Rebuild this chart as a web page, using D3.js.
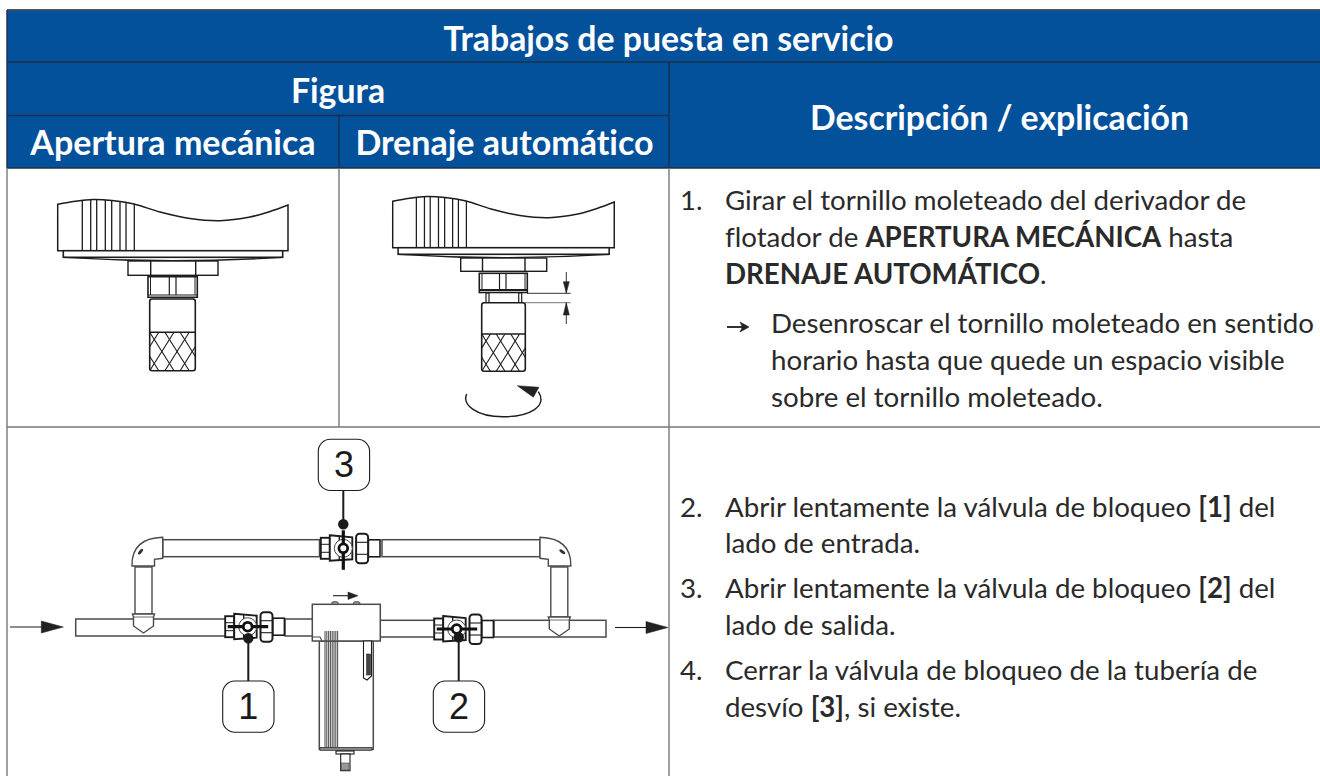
<!DOCTYPE html>
<html>
<head>
<meta charset="utf-8">
<script src="https://cdnjs.cloudflare.com/ajax/libs/d3/7.8.5/d3.min.js"></script>
<style>
html, body { margin: 0; padding: 0; background: #fff; overflow: hidden; }
svg { display: block; }
text { font-variant-ligatures: none; }
</style>
</head>
<body>
<div id="chart"></div>
<script>
//Table content.
var tableTitle = "Trabajos de puesta en servicio";
var figureHead = "Figura";
var columnHeads = ["Apertura mecánica", "Drenaje automático"];
var descriptionHead = "Descripción / explicación";
var stepNumbers = ["1.", "2.", "3.", "4."];
var stepOne = [
	[["Girar el tornillo moleteado del derivador de", 0]],
	[["flotador de ", 0], ["APERTURA MECÁNICA", 1], [" hasta", 0]],
	[["DRENAJE AUTOMÁTICO", 1], [".", 0]]
];
var stepOneResult = [
	"Desenroscar el tornillo moleteado en sentido",
	"horario hasta que quede un espacio visible",
	"sobre el tornillo moleteado."
];
var stepTwo = [
	[["Abrir lentamente la válvula de bloqueo ", 0], ["[1]", 1], [" del", 0]],
	[["lado de entrada.", 0]]
];
var stepThree = [
	[["Abrir lentamente la válvula de bloqueo ", 0], ["[2]", 1], [" del", 0]],
	[["lado de salida.", 0]]
];
var stepFour = [
	[["Cerrar la válvula de bloqueo de la tubería de", 0]],
	[["desvío ", 0], ["[3]", 1], [", si existe.", 0]]
];
var callouts = ["1", "2", "3"];

var width = 1320, height = 776;
var blue = "#03519b", ink = "#1c1c1c", rule = "#777";
var textFont = "Lato, 'Noto Sans', sans-serif";

var svg = d3.select("#chart").append("svg").attr("width", width).attr("height", height);
var line = d3.line();
var smooth = d3.line().curve(d3.curveCatmullRom);

//Draw open or closed outline from a list of points.
function poly(g, pts, fill, sw, stroke){
	return g.append("path").attr("d", line(pts) + (fill ? "Z" : ""))
		.attr("fill", fill || "none").attr("stroke", stroke || ink).attr("stroke-width", sw || 1.4);
}
function box(g, x0, y0, x1, y1, fill, sw, rx, stroke){
	return g.append("rect").attr("x", x0).attr("y", y0).attr("width", x1 - x0).attr("height", y1 - y0)
		.attr("rx", rx || 0).attr("fill", fill || "#fff").attr("stroke", stroke || ink).attr("stroke-width", sw || 1.4);
}

//Header bands and table rules.
var head = svg.append("g");
head.append("rect").attr("x", 7).attr("y", 10).attr("width", 1313).attr("height", 158).attr("fill", blue);
[[7, 9.8, 1320, 9.8, "#555"], [7, 62, 1320, 62, "#1d2f4a"], [7, 115.5, 669, 115.5, "#1d2f4a"], [7, 168, 1320, 168, "#1d2f4a"],
 [339, 115.5, 339, 168, "#1d2f4a"], [669, 62, 669, 168, "#1d2f4a"], [7, 10, 7, 168, "#1d2f4a"],
 [7, 168, 7, 776, rule], [339, 168, 339, 427, rule], [669, 168, 669, 776, rule], [7, 427, 1320, 427, rule]].forEach(function(r){
	svg.append("line").attr("x1", r[0]).attr("y1", r[1]).attr("x2", r[2]).attr("y2", r[3]).attr("stroke", r[4]).attr("stroke-width", 1.4);
});

var heads = [
	{t: tableTitle, x: 668.5, y: 50.5, s: 33.8},
	{t: figureHead, x: 338, y: 103, s: 33.8},
	{t: columnHeads[0], x: 173, y: 154.5, s: 34},
	{t: columnHeads[1], x: 504.5, y: 154.5, s: 34},
	{t: descriptionHead, x: 999.5, y: 130, s: 33.8}
];
svg.append("g").selectAll("text").data(heads).join("text")
	.attr("x", function(d){ return d.x; }).attr("y", function(d){ return d.y; })
	.attr("text-anchor", "middle").attr("font-family", textFont).attr("font-weight", 700)
	.attr("font-size", function(d){ return d.s; }).attr("fill", "#fff")
	.text(function(d){ return d.t; });

//Description column.
var bodySize = 27.7;
function runs(rows, x, y0, gap){
	svg.append("g").selectAll("text").data(rows).join("text")
		.attr("x", x).attr("y", function(d, i){ return y0 + i * gap; })
		.attr("font-family", textFont).attr("font-size", bodySize).attr("fill", "#2a2a2a")
		.style("white-space", "pre")
		.selectAll("tspan").data(function(d){ return d; }).join("tspan")
		.attr("font-weight", function(d){ return d[1] ? 700 : 400; })
		.text(function(d){ return d[0]; });
}
function number(i, y){
	svg.append("text").attr("x", 680).attr("y", y).attr("font-family", textFont)
		.attr("font-size", bodySize).attr("fill", "#2a2a2a").text(stepNumbers[i]);
}
number(0, 210); runs(stepOne, 725, 210, 37);
runs(stepOneResult.map(function(s){ return [[s, 0]]; }), 771, 333, 37);
var resArrow = svg.append("g");
poly(resArrow, [[727, 327], [744, 327]], null, 1.8);
poly(resArrow, [[740, 322], [749, 327], [740, 332], [742.5, 327]], "#222", 0.6);
number(1, 516.5); runs(stepTwo, 725, 516.5, 36.5);
number(2, 598); runs(stepThree, 725, 598, 36.5);
number(3, 680); runs(stepFour, 725, 680, 36.5);

//Float drain illustrations.
var capTop = [[57.7, 204.3], [75, 201.3], [93, 199.5], [112, 200.5], [134, 204], [160, 212], [190, 218.5], [220, 220.7], [250, 217], [270, 211.5], [288, 205]];
var capRibs = [82.3, 90.7, 96.7, 105.3, 111.7, 120, 126, 134.3];
var knurlTop = d3.range(-3, 7);

function cap(g, id){
	var outline = smooth(capTop) + "L288,250.7L57.7,250.7Z";
	g.append("clipPath").attr("id", id).append("path").attr("d", outline);
	g.append("path").attr("d", outline).attr("fill", "#fff").attr("stroke", ink).attr("stroke-width", 1.5);
	g.append("g").attr("clip-path", "url(#" + id + ")").selectAll("line").data(capRibs).join("line")
		.attr("x1", function(d){ return d; }).attr("x2", function(d){ return d; })
		.attr("y1", 195).attr("y2", 251).attr("stroke", ink).attr("stroke-width", 1.3);
	box(g, 63.3, 250.7, 282.7, 257.3, "#fff", 1.6);
	g.append("path").attr("d", "M63.3,257.3Q173,264 282.7,257.3").attr("fill", "none").attr("stroke", ink).attr("stroke-width", 1.3);
}
function knurled(g, id, x0, y0, x1, y1){
	g.append("clipPath").attr("id", id).append("rect").attr("x", x0).attr("y", y0).attr("width", x1 - x0).attr("height", y1 - y0).attr("rx", 2);
	var lines = g.append("g").attr("clip-path", "url(#" + id + ")");
	var step = (x1 - x0) / 3;
	knurlTop.forEach(function(k){
		var a = x0 + k * step;
		poly(lines, [[a, y0], [a + step * 1.6, y1]], null, 1.1);
		poly(lines, [[a + step * 1.6, y0], [a, y1]], null, 1.1);
	});
}

var knobA = svg.append("g");
cap(knobA, "capA");
box(knobA, 128, 261, 218, 275.3);
poly(knobA, [[150.7, 261], [150.7, 275.3]]);
poly(knobA, [[195.7, 261], [195.7, 275.3]]);
box(knobA, 148, 276.7, 197.3, 297.3, "#fff", 1.6);
poly(knobA, [[150.5, 277], [150.5, 295]], null, 1);
poly(knobA, [[195, 277], [195, 295]], null, 1);
poly(knobA, [[169.3, 277], [169.3, 295]], null, 1.2);
poly(knobA, [[176, 277], [176, 295]], null, 1.2);
poly(knobA, [[148, 295], [197.3, 295]], null, 1.1);
box(knobA, 149.7, 299, 195.3, 370.7, "#fff", 1.6, 2.5);
poly(knobA, [[149.7, 332.3], [195.3, 332.3]], null, 1.5);
knurled(knobA, "knurlA", 149.7, 332.3, 195.3, 370.7);

var knobB = svg.append("g");
cap(knobB.append("g").attr("transform", "translate(392.7,-3) scale(.962,1) translate(-57.7,0)"), "capB");
box(knobB, 460.7, 258, 546.7, 271.3);
poly(knobB, [[482.5, 258], [482.5, 271.3]]);
poly(knobB, [[525, 258], [525, 271.3]]);
box(knobB, 479.3, 273.3, 527.3, 292.5, "#fff", 1.6);
poly(knobB, [[482, 274], [482, 291]], null, 1);
poly(knobB, [[525, 274], [525, 291]], null, 1);
poly(knobB, [[499.5, 274], [499.5, 291]], null, 1.2);
poly(knobB, [[506, 274], [506, 291]], null, 1.2);
poly(knobB, [[479.3, 290], [527.3, 290]], null, 1.8);
box(knobB, 486, 293, 489, 302.7, "#fff", 1.2);
box(knobB, 518.7, 293, 521.7, 302.7, "#fff", 1.2);
box(knobB, 481.7, 302.7, 525.3, 371.3, "#fff", 1.6, 2.5);
poly(knobB, [[481.7, 334], [525.3, 334]], null, 1.5);
knurled(knobB, "knurlB", 481.7, 334, 525.3, 371.3);
poly(knobB, [[527, 293.3], [570.7, 293.3]], null, 0.9);
poly(knobB, [[525, 302.7], [570.7, 302.7]], null, 0.9, "#666");
poly(knobB, [[566.3, 272], [566.3, 293]], null, 0.9);
poly(knobB, [[566.3, 302.7], [566.3, 324]], null, 0.9);
poly(knobB, [[563.3, 281.7], [569.3, 281.7], [566.3, 293]], "#222", 0.5);
poly(knobB, [[563.3, 315], [569.3, 315], [566.3, 302.7]], "#222", 0.5);
knobB.append("path").attr("d", "M466.7,394 C462,404 475,416.7 503.3,416.7 C530,416.7 548,406 538.3,391.7")
	.attr("fill", "none").attr("stroke", ink).attr("stroke-width", 1.4);
poly(knobB, [[517.3, 385.7], [539, 387.3], [533.3, 397.3]], "#222", 0.5);

//Piping illustration.
var pipes = svg.append("g");
var pipeStroke = "#4a4a4a";

function flowArrow(x0, x1, y){
	poly(pipes, [[x0, y], [x1 - 21, y]], null, 1.1);
	poly(pipes, [[x1 - 22, y - 6], [x1, y], [x1 - 22, y + 6]], "#222", 0.5);
}
flowArrow(10, 63.3, 627);
flowArrow(615, 668, 627.5);

box(pipes, 75.7, 619, 226, 636, "#fff", 1.5, 0, pipeStroke);
box(pipes, 285, 619, 313, 636, "#fff", 1.5, 0, pipeStroke);
box(pipes, 380, 620.3, 440, 637, "#fff", 1.5, 0, pipeStroke);
box(pipes, 494, 620.3, 606, 637, "#fff", 1.5, 0, pipeStroke);
box(pipes, 162.7, 539.7, 319.5, 556.7, "#fff", 1.5, 0, pipeStroke);
box(pipes, 382, 539.7, 540, 556.7, "#fff", 1.5, 0, pipeStroke);

//side is -1 for left hand branch, 1 for right hand branch.
function branch(cx, bottom, s, endX){
	box(pipes, cx - 8.5, 567, cx + 8.5, bottom, "#fff", 1.4, 0, pipeStroke);
	poly(pipes, [[cx - 11, bottom], [cx + 11, bottom], [cx + 10, bottom + 3], [cx + 10, bottom + 12], [cx, bottom + 19], [cx - 10, bottom + 12], [cx - 10, bottom + 3]], "#fff", 1.4, pipeStroke);
	poly(pipes, [[cx - 10, bottom + 3], [cx + 10, bottom + 3]], null, 0.8, pipeStroke);
	pipes.append("path").attr("d", "M" + (cx - s * 11) + ",566 L" + (cx + s * 11.5) + ",566 C" + (cx + s * 12) + ",548 " + (cx + s * 3) + ",538 " + endX + ",537.3 L" + endX + ",558.3 L" + (cx - s * 11) + ",559.3 L" + (cx - s * 11) + ",566Z")
		.attr("fill", "#fff").attr("stroke", pipeStroke).attr("stroke-width", 1.4);
	pipes.append("ellipse").attr("rx", 3.4).attr("ry", 1.5).attr("fill", "#333")
		.attr("transform", "translate(" + (cx + s * 3) + ",551.7) rotate(" + (s > 0 ? 35 : -50) + ")");
}
branch(143.5, 614, -1, 162.7);
branch(559.3, 617, 1, 540);

//Ball valve, built around its lever centre.
function valve(cx, cy){
	var g = pipes.append("g").attr("transform", "translate(" + cx + "," + cy + ")");
	box(g, -22.5, -10.5, -13.5, 10.5, "#fff", 1.9);
	poly(g, [[-22.5, -4], [-13.5, -4]], null, 1);
	poly(g, [[-22.5, 4], [-13.5, 4]], null, 1);
	poly(g, [[-13.5, -13], [9, -11], [9, 11], [-13.5, 12.5]], "#fff", 1.9);
	poly(g, [[-4, -12.5], [-4, 12]], null, 1.4);
	box(g, 25, -8.5, 36.7, 8.5, "#fff", 1.6);
	box(g, 12.8, -14.5, 24.8, 15, "#fff", 2, 3.5);
	poly(g, [[12.8, -6], [24.8, -6]], null, 1.1);
	poly(g, [[12.8, 6], [24.8, 6]], null, 1.1);
	return g;
}
function lever(g, horizontal){
	g.append("circle").attr("r", 9).attr("fill", "#fff").attr("stroke", "#444").attr("stroke-width", 1);
	var bar = horizontal ? [[-20, 0], [20.5, 0]] : [[0, -18], [0, 21.5]];
	poly(g, bar, null, 3.2, "#111");
	g.append("circle").attr("r", 4.4).attr("fill", "#fff").attr("stroke", "#111").attr("stroke-width", 2.8);
}
lever(valve(247.7, 626.7), true);
lever(valve(456.7, 629), true);
lever(valve(343.3, 548.3), false);

//Filter housing.
var filter = pipes.append("g");
box(filter, 319.3, 641, 373.3, 749.3, "#fff", 1.5, 0, pipeStroke);
d3.range(325, 338, 1.8).forEach(function(x){
	poly(filter, [[x, 631], [x, 749]], null, 1.1, "#555");
});
box(filter, 312.3, 604.3, 380.3, 641, "#fff", 1.5, 0, pipeStroke);
poly(filter, [[312.3, 637], [320, 637], [322, 641]], null, 1.1, pipeStroke);
d3.range(325, 338, 1.8).forEach(function(x){
	poly(filter, [[x, 631], [x, 641]], null, 1.1, "#555");
});
box(filter, 320, 747.5, 372, 750.3, "#888", 0.8, 0, "#333");
box(filter, 336, 751, 354, 754, "#fff", 1.1);
box(filter, 340.7, 754, 350, 770.7, "#fff", 1.1);
box(filter, 341.5, 763, 349, 770, "#999", 0.6, 0, "#444");
poly(filter, [[363.5, 641], [363.5, 678], [367, 680], [371.5, 676], [371.5, 641]], "#fff", 1.1);
box(filter, 366.5, 654, 370.5, 675, "#444", 0.5);
[335, 356.7].forEach(function(x){
	filter.append("ellipse").attr("cx", x).attr("cy", 603).attr("rx", 3.5).attr("ry", 1.6).attr("fill", "#888").attr("stroke", "#333").attr("stroke-width", 0.6);
});
poly(filter, [[333, 595.7], [349, 595.7]], null, 1.1);
poly(filter, [[348, 592], [358, 595.7], [348, 599.5]], "#222", 0.5);

//Callouts with leader and dot.
var calloutSpots = [
	{dotX: 248.3, dotY: 638.3, x0: 222.7, y0: 681, lead: 681},
	{dotX: 458.7, dotY: 637.3, x0: 433.3, y0: 681, lead: 681},
	{dotX: 343.3, dotY: 524.3, x0: 318.3, y0: 439.3, lead: 490.3}
];
var tags = svg.append("g").selectAll("g").data(callouts).join("g");
tags.each(function(d, i){
	var g = d3.select(this), c = calloutSpots[i];
	poly(g, [[c.dotX, c.dotY], [c.dotX, c.lead]], null, 2, "#1a1a1a");
	g.append("circle").attr("cx", c.dotX).attr("cy", c.dotY).attr("r", 5.2).attr("fill", "#1a1a1a");
	box(g, c.x0, c.y0, c.x0 + 51.3, c.y0 + 51.2, "#fff", 1.1, 12);
	g.append("text").attr("x", c.x0 + 25.6).attr("y", c.y0 + 37.5).attr("text-anchor", "middle")
		.attr("font-family", "'Liberation Sans', Arial, sans-serif").attr("font-size", 36).attr("fill", "#1a1a1a").text(d);
});
</script>
</body>
</html>
